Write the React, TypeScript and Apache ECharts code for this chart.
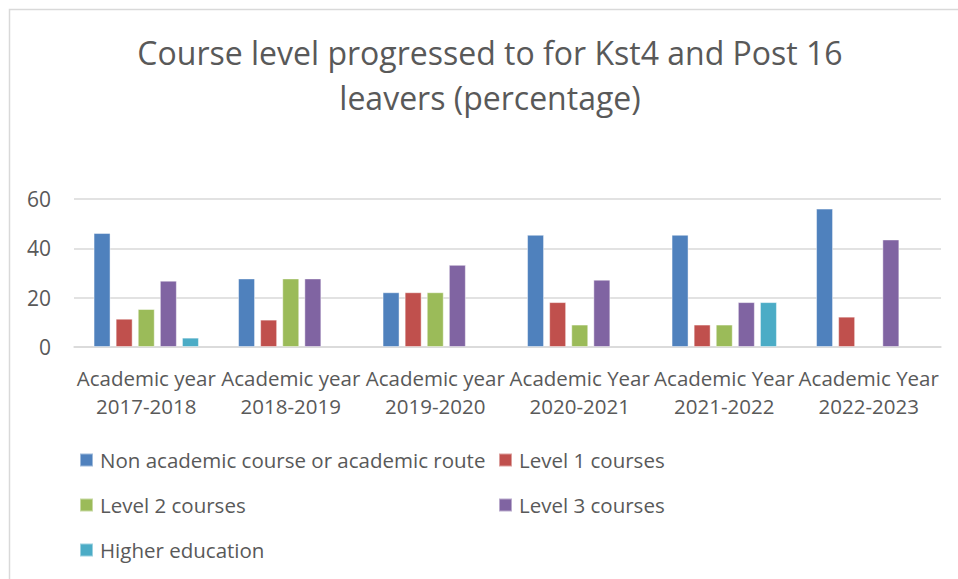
import React, { useEffect, useRef } from "react";
import * as echarts from "echarts";

const categories = [
  "Academic year\n2017-2018",
  "Academic year\n2018-2019",
  "Academic year\n2019-2020",
  "Academic Year\n2020-2021",
  "Academic Year\n2021-2022",
  "Academic Year\n2022-2023",
];
const nonAcademic = [46.2, 27.8, 22.2, 45.5, 45.5, 56.1];
const level1 = [11.5, 11.1, 22.2, 18.2, 9.1, 12.3];
const level2 = [15.4, 27.8, 22.2, 9.1, 9.1, null];
const level3 = [26.9, 27.8, 33.3, 27.3, 18.2, 43.6];
const higherEd = [3.8, null, null, null, 18.2, null];

const seriesNames = [
  "Non academic course or academic route",
  "Level 1 courses",
  "Level 2 courses",
  "Level 3 courses",
  "Higher education",
];
const seriesData = [nonAcademic, level1, level2, level3, higherEd];
const colors = ["#4F81BD", "#C0504D", "#9BBB59", "#8064A2", "#4BACC6"];
const yTicks = { min: 0, max: 60, interval: 20 };

const FONT = "'Open Sans', 'Noto Sans', sans-serif";
const TEXT = "#595959";

export default function App() {
  const ref = useRef<HTMLDivElement>(null);
  useEffect(() => {
    if (!ref.current) return;
    const chart = echarts.init(ref.current, null, { renderer: "svg" });
    const legendText = {
      fontFamily: FONT,
      fontSize: 20.5,
      color: TEXT,
      lineHeight: 22,
      padding: [0, 0, 0, 2],
    };
    chart.setOption({
      animation: false,
      backgroundColor: "#ffffff",
      color: colors,
      title: {
        text: "Course level progressed to for Kst4 and Post 16\nleavers (percentage)",
        left: 490,
        top: 30,
        textAlign: "center",
        padding: 0,
        textStyle: {
          fontFamily: FONT,
          fontSize: 32,
          fontWeight: "normal",
          color: TEXT,
          lineHeight: 45,
        },
      },
      graphic: [
        {
          type: "rect",
          shape: { x: 9.5, y: 9.5, width: 980, height: 600 },
          style: { fill: "none", stroke: "#d9d9d9", lineWidth: 1.5 },
          silent: true,
        },
      ],
      legend: [
        {
          orient: "vertical",
          left: 79,
          top: 449,
          padding: 0,
          itemGap: 23,
          itemWidth: 13,
          itemHeight: 13,
          icon: "rect",
          data: [seriesNames[0], seriesNames[2], seriesNames[4]],
          textStyle: legendText,
        },
        {
          orient: "vertical",
          left: 498,
          top: 449,
          padding: 0,
          itemGap: 23,
          itemWidth: 13,
          itemHeight: 13,
          icon: "rect",
          data: [seriesNames[1], seriesNames[3]],
          textStyle: legendText,
        },
      ],
      grid: { left: 74, right: 17, top: 199, bottom: 232, containLabel: false },
      xAxis: {
        type: "category",
        data: categories,
        axisLine: { lineStyle: { color: "#d9d9d9", width: 1.5 } },
        axisTick: { show: false },
        axisLabel: {
          interval: 0,
          margin: 17,
          fontFamily: FONT,
          fontSize: 20.5,
          lineHeight: 28,
          color: TEXT,
        },
      },
      yAxis: {
        type: "value",
        min: yTicks.min,
        max: yTicks.max,
        interval: yTicks.interval,
        axisLine: { show: false },
        axisTick: { show: false },
        splitLine: { lineStyle: { color: "#d9d9d9", width: 1.5 } },
        axisLabel: {
          margin: 23,
          fontFamily: FONT,
          fontSize: 21,
          color: TEXT,
        },
      },
      series: seriesData.map((d, i) => ({
        name: seriesNames[i],
        type: "bar",
        data: d,
        barWidth: 17,
        barGap: "30%",
        itemStyle: {
          color: colors[i],
          borderColor: "rgba(255,255,255,0.45)",
          borderWidth: 1,
        },
      })),
    });
    return () => chart.dispose();
  }, []);
  return (
    <div
      ref={ref}
      style={{ position: "absolute", left: 0, top: 0, width: 958, height: 579 }}
    />
  );
}
